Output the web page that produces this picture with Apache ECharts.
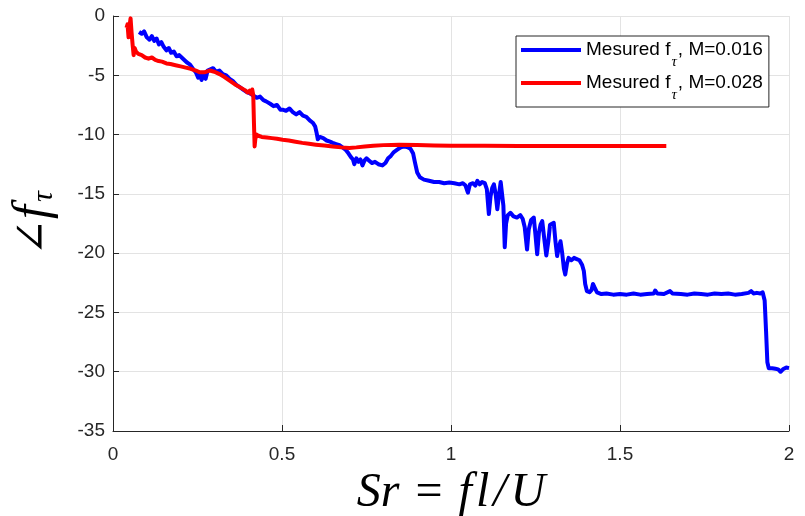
<!DOCTYPE html>
<html>
<head>
<meta charset="utf-8">
<script src="https://cdn.jsdelivr.net/npm/echarts@6/dist/echarts.min.js"></script>
<style>
  html, body { margin: 0; padding: 0; background: #fff; }
  #chart { width: 805px; height: 516px; }
</style>
</head>
<body>
<div id="chart"></div>
<script>
// Axis ticks
const xTicks = [0, 0.5, 1, 1.5, 2];
const yTicks = [0, -5, -10, -15, -20, -25, -30, -35];

// Series names
const seriesNames = ['M=0.016', 'M=0.028'];

// Phase of f_tau vs Strouhal number, M = 0.016
const blueX = [0.077,0.085,0.092,0.100,0.108,0.115,0.122,0.129,0.136,0.143,0.150,0.158,0.165,0.172,0.180,0.188,0.196,0.207,0.218,0.228,0.238,0.246,0.252,0.257,0.262,0.268,0.274,0.280,0.288,0.296,0.305,0.315,0.325,0.335,0.345,0.355,0.365,0.375,0.385,0.395,0.404,0.415,0.425,0.435,0.445,0.453,0.465,0.475,0.485,0.495,0.502,0.512,0.522,0.532,0.542,0.552,0.562,0.572,0.582,0.591,0.598,0.602,0.606,0.612,0.622,0.632,0.642,0.650,0.660,0.670,0.680,0.689,0.697,0.704,0.710,0.714,0.720,0.726,0.732,0.738,0.744,0.750,0.758,0.766,0.775,0.785,0.797,0.806,0.814,0.822,0.830,0.840,0.850,0.860,0.870,0.880,0.888,0.893,0.900,0.908,0.920,0.935,0.950,0.965,0.980,0.995,1.010,1.025,1.035,1.043,1.050,1.056,1.065,1.072,1.078,1.085,1.092,1.100,1.106,1.112,1.117,1.122,1.127,1.132,1.137,1.142,1.147,1.151,1.155,1.159,1.163,1.168,1.176,1.185,1.195,1.205,1.212,1.218,1.225,1.230,1.237,1.245,1.250,1.255,1.260,1.265,1.270,1.276,1.282,1.288,1.293,1.298,1.304,1.309,1.314,1.319,1.324,1.329,1.334,1.338,1.343,1.348,1.356,1.364,1.372,1.380,1.388,1.393,1.397,1.402,1.410,1.416,1.420,1.425,1.432,1.445,1.460,1.480,1.500,1.520,1.540,1.560,1.580,1.600,1.604,1.610,1.630,1.648,1.655,1.680,1.700,1.720,1.740,1.760,1.780,1.800,1.820,1.840,1.860,1.880,1.888,1.895,1.905,1.915,1.922,1.928,1.932,1.936,1.940,1.950,1.960,1.968,1.975,1.982,1.992,2.000];
const blueY = [-1.35,-1.5,-1.3,-1.8,-2.0,-1.7,-2.1,-1.9,-2.4,-2.2,-2.6,-2.9,-2.7,-3.1,-3.0,-3.4,-3.3,-3.6,-3.9,-4.1,-4.5,-4.8,-5.2,-4.9,-5.4,-5.0,-5.3,-4.6,-4.5,-4.4,-4.7,-4.6,-4.9,-5.0,-5.3,-5.5,-5.8,-6.0,-6.2,-6.4,-6.5,-6.7,-6.9,-6.8,-7.1,-7.2,-7.4,-7.6,-7.5,-7.9,-7.9,-8.0,-7.8,-8.1,-8.3,-8.1,-8.4,-8.5,-8.8,-9.0,-9.3,-9.8,-10.4,-10.2,-10.3,-10.5,-10.6,-10.7,-10.8,-10.9,-11.1,-11.3,-11.6,-11.9,-12.1,-12.5,-12.0,-12.3,-12.1,-12.6,-12.2,-12.0,-12.2,-12.4,-12.3,-12.5,-12.6,-12.4,-12.0,-11.8,-11.5,-11.3,-11.1,-11.0,-11.05,-11.2,-11.6,-12.3,-13.2,-13.6,-13.8,-13.9,-14.0,-14.0,-14.1,-14.05,-14.1,-14.2,-14.1,-14.3,-14.9,-14.2,-14.1,-14.3,-13.9,-14.2,-14.0,-14.1,-14.6,-16.7,-15.2,-14.5,-14.2,-15.0,-16.3,-15.1,-14.0,-13.9,-16.0,-19.5,-17.5,-16.8,-16.6,-16.9,-17.0,-16.8,-17.1,-17.8,-19.7,-18.0,-17.2,-17.0,-18.5,-20.1,-18.3,-17.6,-17.3,-18.8,-20.2,-19.0,-17.6,-17.5,-17.45,-19.0,-20.25,-19.5,-19.0,-20.0,-21.3,-21.8,-20.9,-20.4,-20.6,-20.4,-20.5,-20.6,-21.0,-21.5,-22.6,-23.2,-23.3,-23.1,-22.6,-22.9,-23.3,-23.45,-23.4,-23.5,-23.45,-23.5,-23.4,-23.5,-23.45,-23.4,-23.15,-23.4,-23.45,-23.2,-23.4,-23.45,-23.5,-23.4,-23.45,-23.5,-23.4,-23.45,-23.4,-23.5,-23.45,-23.35,-23.2,-23.4,-23.35,-23.4,-23.3,-24.0,-26.5,-29.2,-29.7,-29.7,-29.75,-29.8,-30.0,-29.8,-29.65,-29.7];

// Phase of f_tau vs Strouhal number, M = 0.028
const redX = [0.040,0.043,0.046,0.049,0.052,0.055,0.058,0.061,0.064,0.068,0.075,0.085,0.095,0.105,0.115,0.125,0.135,0.145,0.158,0.170,0.185,0.200,0.215,0.230,0.245,0.257,0.270,0.286,0.300,0.315,0.330,0.345,0.360,0.375,0.390,0.398,0.404,0.408,0.412,0.415,0.417,0.419,0.421,0.424,0.430,0.440,0.455,0.470,0.485,0.502,0.520,0.540,0.560,0.580,0.600,0.625,0.650,0.675,0.699,0.720,0.745,0.770,0.800,0.847,0.900,0.950,1.000,1.100,1.200,1.300,1.400,1.500,1.637];
const redY = [-1.0,-0.7,-1.8,-0.8,-0.2,-1.4,-2.4,-3.3,-2.7,-3.0,-3.2,-3.3,-3.5,-3.6,-3.5,-3.7,-3.8,-3.85,-4.0,-4.05,-4.15,-4.25,-4.35,-4.45,-4.6,-4.75,-4.75,-4.6,-4.7,-4.9,-5.15,-5.45,-5.75,-6.0,-6.25,-6.45,-6.3,-6.55,-6.2,-6.7,-9.0,-11.0,-10.4,-10.0,-10.1,-10.2,-10.25,-10.3,-10.35,-10.43,-10.5,-10.6,-10.7,-10.78,-10.85,-10.93,-11.0,-11.08,-11.13,-11.08,-11.0,-10.94,-10.89,-10.85,-10.88,-10.92,-10.94,-10.95,-10.96,-10.96,-10.96,-10.96,-10.96];

const zip = (xs, ys) => xs.map((x, i) => [x, ys[i]]);

const axisColor = '#262626';
const gridColor = '#e3e3e3';
const sansFont = '"Liberation Sans", Arial, sans-serif';
const mathFont = '"Liberation Serif", "DejaVu Serif", serif';

const chart = echarts.init(document.getElementById('chart'), null, { renderer: 'canvas' });

chart.setOption({
  animation: false,
  backgroundColor: '#ffffff',
  grid: { left: 113, right: 16, top: 16, bottom: 85, containLabel: false, outerBoundsMode: 'none' },
  legend: {
    orient: 'vertical',
    left: 516,
    top: 36,
    padding: [4, 6, 4, 5],
    itemGap: 3,
    itemWidth: 60,
    itemHeight: 4,
    itemTextGap: 8,
    icon: 'rect',
    borderColor: axisColor,
    borderWidth: 1,
    backgroundColor: '#ffffff',
    data: seriesNames,
    formatter: name => '{a|Mesured f}{s|τ}{a|, ' + name + '}',
    textStyle: {
      fontFamily: sansFont,
      fontSize: 19,
      color: '#000',
      rich: {
        a: { fontFamily: sansFont, fontSize: 19, lineHeight: 20, color: '#000', verticalAlign: 'top' },
        s: { fontFamily: mathFont, fontStyle: 'italic', fontSize: 15, lineHeight: 15, color: '#000',
             verticalAlign: 'top', padding: [15, 1, 0, 1] }
      }
    }
  },
  xAxis: {
    type: 'value',
    min: xTicks[0],
    max: xTicks[xTicks.length - 1],
    interval: 0.5,
    name: '{v|Sr}{o|=}{f|f}{f|l}{f|/}{v|U}',
    nameLocation: 'middle',
    nameGap: 38,
    nameTextStyle: {
      rich: {
        v: { fontFamily: mathFont, fontStyle: 'italic', fontSize: 48, color: '#000' },
        f: { fontFamily: mathFont, fontStyle: 'italic', fontSize: 48, color: '#000', padding: [0, 4, 0, 0] },
        o: { fontFamily: mathFont, fontSize: 48, color: '#000', padding: [0, 16, 0, 16] }
      }
    },
    axisLine: { show: true, onZero: false, lineStyle: { color: axisColor, width: 1 } },
    axisTick: { show: true, inside: true, length: 6, lineStyle: { color: axisColor } },
    axisLabel: { color: axisColor, fontFamily: sansFont, fontSize: 19, margin: 14,
                 formatter: v => String(v) },
    splitLine: { show: true, lineStyle: { color: gridColor, width: 1 } }
  },
  yAxis: {
    type: 'value',
    min: yTicks[yTicks.length - 1],
    max: yTicks[0],
    interval: 5,
    name: '{n|∠}{v|f}{s|τ}',
    nameLocation: 'middle',
    nameRotate: 90,
    nameGap: 54,
    nameTextStyle: {
      rich: {
        n: { fontFamily: mathFont, fontSize: 44, color: '#000' },
        v: { fontFamily: mathFont, fontStyle: 'italic', fontSize: 50, color: '#000' },
        s: { fontFamily: mathFont, fontStyle: 'italic', fontSize: 30, color: '#000', verticalAlign: 'bottom', padding: [16, 0, 0, 3] }
      }
    },
    axisLine: { show: true, onZero: false, lineStyle: { color: axisColor, width: 1 } },
    axisTick: { show: true, inside: true, length: 6, lineStyle: { color: axisColor } },
    axisLabel: { color: axisColor, fontFamily: sansFont, fontSize: 19, margin: 8 },
    splitLine: { show: true, lineStyle: { color: gridColor, width: 1 } }
  },
  series: [
    {
      name: seriesNames[0],
      type: 'line',
      data: zip(blueX, blueY),
      showSymbol: false,
      color: '#0000ff',
      lineStyle: { color: '#0000ff', width: 4, join: 'round' },
      z: 2
    },
    {
      name: seriesNames[1],
      type: 'line',
      data: zip(redX, redY),
      showSymbol: false,
      color: '#ff0000',
      lineStyle: { color: '#ff0000', width: 4, join: 'round' },
      z: 3
    }
  ]
});
</script>
</body>
</html>
